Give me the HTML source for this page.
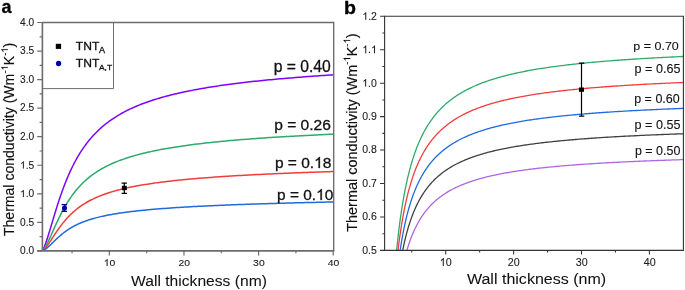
<!DOCTYPE html>
<html><head><meta charset="utf-8"><style>
html,body{margin:0;padding:0;background:#fff;width:685px;height:290px;overflow:hidden}
svg{display:block;font-family:"Liberation Sans", sans-serif;will-change:transform}
</style></head><body>
<svg width="685" height="290" viewBox="0 0 685 290">
<rect width="685" height="290" fill="#fff"/>
<defs><clipPath id="ca"><rect x="42.2" y="22.5" width="291.0" height="228.4"/></clipPath><clipPath id="cb"><rect x="384.6" y="16.3" width="298.8" height="234"/></clipPath></defs>
<path d="M42.00,250.90 L42.00,250.90 L42.01,250.90 L42.02,250.89 L42.03,250.88 L42.05,250.87 L42.07,250.85 L42.10,250.83 L42.14,250.80 L42.18,250.76 L42.23,250.72 L42.28,250.66 L42.34,250.59 L42.40,250.51 L42.48,250.42 L42.55,250.31 L42.64,250.19 L42.73,250.05 L42.83,249.90 L42.93,249.72 L43.04,249.53 L43.16,249.31 L43.29,249.08 L43.42,248.82 L43.56,248.54 L43.70,248.23 L43.86,247.89 L44.02,247.53 L44.19,247.14 L44.36,246.73 L44.55,246.28 L44.74,245.80 L44.93,245.29 L45.14,244.75 L45.35,244.18 L45.57,243.57 L45.80,242.93 L46.04,242.25 L46.28,241.54 L46.53,240.80 L46.79,240.02 L47.06,239.20 L47.34,238.35 L47.62,237.47 L47.91,236.54 L48.21,235.59 L48.52,234.59 L48.84,233.57 L49.16,232.50 L49.49,231.41 L49.83,230.28 L50.18,229.12 L50.54,227.92 L50.90,226.70 L51.28,225.44 L51.66,224.16 L52.05,222.85 L52.45,221.51 L52.86,220.14 L53.27,218.75 L53.70,217.34 L54.13,215.90 L54.57,214.45 L55.02,212.97 L55.48,211.48 L55.95,209.96 L56.43,208.44 L56.91,206.90 L57.40,205.34 L57.91,203.78 L58.42,202.20 L58.94,200.62 L59.47,199.03 L60.01,197.44 L60.55,195.84 L61.11,194.24 L61.67,192.63 L62.25,191.03 L62.83,189.43 L63.42,187.83 L64.03,186.23 L64.64,184.64 L65.25,183.05 L65.88,181.47 L66.52,179.90 L67.17,178.34 L67.82,176.78 L68.49,175.24 L69.16,173.70 L69.85,172.18 L70.54,170.67 L71.24,169.18 L71.95,167.70 L72.68,166.23 L73.41,164.77 L74.15,163.34 L74.89,161.91 L75.65,160.51 L76.42,159.12 L77.20,157.74 L77.99,156.39 L78.78,155.05 L79.59,153.72 L80.40,152.42 L81.23,151.13 L82.06,149.86 L82.91,148.61 L83.76,147.37 L84.62,146.15 L85.50,144.95 L86.38,143.77 L87.27,142.61 L88.17,141.46 L89.09,140.33 L90.01,139.22 L90.94,138.12 L91.88,137.05 L92.83,135.98 L93.79,134.94 L94.76,133.91 L95.74,132.90 L96.73,131.91 L97.73,130.93 L98.74,129.97 L99.76,129.02 L100.79,128.09 L101.83,127.17 L102.88,126.27 L103.94,125.38 L105.01,124.51 L106.09,123.65 L107.18,122.81 L108.28,121.98 L109.39,121.17 L110.51,120.36 L111.64,119.57 L112.78,118.80 L113.93,118.03 L115.09,117.28 L116.26,116.54 L117.44,115.82 L118.63,115.10 L119.83,114.40 L121.04,113.71 L122.26,113.03 L123.50,112.36 L124.74,111.70 L125.99,111.05 L127.25,110.42 L128.52,109.79 L129.81,109.17 L131.10,108.56 L132.40,107.97 L133.72,107.38 L135.04,106.80 L136.37,106.23 L137.72,105.67 L139.07,105.11 L140.44,104.57 L141.82,104.03 L143.20,103.51 L144.60,102.99 L146.01,102.48 L147.42,101.97 L148.85,101.48 L150.29,100.99 L151.74,100.51 L153.20,100.03 L154.67,99.56 L156.15,99.10 L157.64,98.65 L159.14,98.20 L160.65,97.76 L162.18,97.33 L163.71,96.90 L165.26,96.48 L166.81,96.06 L168.38,95.65 L169.95,95.25 L171.54,94.85 L173.14,94.45 L174.74,94.07 L176.36,93.68 L177.99,93.31 L179.63,92.94 L181.28,92.57 L182.95,92.21 L184.62,91.85 L186.30,91.50 L188.00,91.15 L189.70,90.81 L191.42,90.47 L193.14,90.13 L194.88,89.80 L196.63,89.48 L198.39,89.16 L200.16,88.84 L201.94,88.53 L203.73,88.22 L205.53,87.91 L207.34,87.61 L209.17,87.31 L211.00,87.02 L212.85,86.73 L214.71,86.44 L216.57,86.16 L218.45,85.88 L220.34,85.60 L222.24,85.33 L224.16,85.06 L226.08,84.79 L228.01,84.53 L229.96,84.27 L231.91,84.01 L233.88,83.76 L235.86,83.51 L237.85,83.26 L239.85,83.01 L241.86,82.77 L243.88,82.53 L245.92,82.29 L247.96,82.06 L250.02,81.83 L252.08,81.60 L254.16,81.37 L256.25,81.15 L258.35,80.93 L260.46,80.71 L262.59,80.49 L264.72,80.28 L266.87,80.07 L269.02,79.86 L271.19,79.65 L273.37,79.44 L275.56,79.24 L277.76,79.04 L279.97,78.84 L282.20,78.65 L284.43,78.45 L286.68,78.26 L288.94,78.07 L291.21,77.88 L293.49,77.70 L295.78,77.51 L298.08,77.33 L300.40,77.15 L302.72,76.97 L305.06,76.79 L307.41,76.62 L309.77,76.45 L312.14,76.27 L314.52,76.10 L316.92,75.94 L319.32,75.77 L321.74,75.61 L324.17,75.44 L326.61,75.28 L329.06,75.12 L331.53,74.96 L334.00,74.81" fill="none" stroke="#8000ff" stroke-width="1.5" clip-path="url(#ca)"/>
<path d="M42.00,250.90 L42.00,250.90 L42.01,250.90 L42.02,250.89 L42.03,250.89 L42.05,250.88 L42.07,250.87 L42.10,250.86 L42.14,250.84 L42.18,250.82 L42.23,250.79 L42.28,250.76 L42.34,250.72 L42.40,250.67 L42.48,250.62 L42.55,250.55 L42.64,250.48 L42.73,250.40 L42.83,250.31 L42.93,250.21 L43.04,250.09 L43.16,249.97 L43.29,249.83 L43.42,249.67 L43.56,249.50 L43.70,249.32 L43.86,249.12 L44.02,248.90 L44.19,248.66 L44.36,248.41 L44.55,248.14 L44.74,247.84 L44.93,247.53 L45.14,247.19 L45.35,246.84 L45.57,246.46 L45.80,246.06 L46.04,245.63 L46.28,245.19 L46.53,244.71 L46.79,244.22 L47.06,243.70 L47.34,243.15 L47.62,242.59 L47.91,241.99 L48.21,241.37 L48.52,240.73 L48.84,240.06 L49.16,239.37 L49.49,238.65 L49.83,237.91 L50.18,237.15 L50.54,236.36 L50.90,235.55 L51.28,234.72 L51.66,233.87 L52.05,233.00 L52.45,232.10 L52.86,231.19 L53.27,230.26 L53.70,229.31 L54.13,228.35 L54.57,227.37 L55.02,226.37 L55.48,225.36 L55.95,224.34 L56.43,223.31 L56.91,222.27 L57.40,221.22 L57.91,220.16 L58.42,219.09 L58.94,218.01 L59.47,216.94 L60.01,215.85 L60.55,214.77 L61.11,213.68 L61.67,212.59 L62.25,211.50 L62.83,210.41 L63.42,209.32 L64.03,208.24 L64.64,207.15 L65.25,206.08 L65.88,205.00 L66.52,203.94 L67.17,202.88 L67.82,201.82 L68.49,200.78 L69.16,199.74 L69.85,198.71 L70.54,197.69 L71.24,196.68 L71.95,195.68 L72.68,194.69 L73.41,193.71 L74.15,192.74 L74.89,191.79 L75.65,190.84 L76.42,189.91 L77.20,188.99 L77.99,188.08 L78.78,187.18 L79.59,186.30 L80.40,185.43 L81.23,184.57 L82.06,183.72 L82.91,182.89 L83.76,182.07 L84.62,181.26 L85.50,180.46 L86.38,179.68 L87.27,178.91 L88.17,178.15 L89.09,177.40 L90.01,176.67 L90.94,175.94 L91.88,175.23 L92.83,174.54 L93.79,173.85 L94.76,173.17 L95.74,172.51 L96.73,171.85 L97.73,171.21 L98.74,170.58 L99.76,169.96 L100.79,169.35 L101.83,168.75 L102.88,168.16 L103.94,167.58 L105.01,167.01 L106.09,166.45 L107.18,165.90 L108.28,165.36 L109.39,164.83 L110.51,164.31 L111.64,163.79 L112.78,163.29 L113.93,162.79 L115.09,162.30 L116.26,161.82 L117.44,161.35 L118.63,160.88 L119.83,160.42 L121.04,159.97 L122.26,159.53 L123.50,159.10 L124.74,158.67 L125.99,158.25 L127.25,157.83 L128.52,157.42 L129.81,157.02 L131.10,156.63 L132.40,156.24 L133.72,155.86 L135.04,155.48 L136.37,155.11 L137.72,154.74 L139.07,154.38 L140.44,154.03 L141.82,153.68 L143.20,153.33 L144.60,153.00 L146.01,152.66 L147.42,152.33 L148.85,152.01 L150.29,151.69 L151.74,151.37 L153.20,151.06 L154.67,150.76 L156.15,150.46 L157.64,150.16 L159.14,149.87 L160.65,149.58 L162.18,149.29 L163.71,149.01 L165.26,148.74 L166.81,148.46 L168.38,148.19 L169.95,147.93 L171.54,147.66 L173.14,147.41 L174.74,147.15 L176.36,146.90 L177.99,146.65 L179.63,146.40 L181.28,146.16 L182.95,145.92 L184.62,145.68 L186.30,145.45 L188.00,145.22 L189.70,144.99 L191.42,144.77 L193.14,144.55 L194.88,144.33 L196.63,144.11 L198.39,143.90 L200.16,143.69 L201.94,143.48 L203.73,143.27 L205.53,143.07 L207.34,142.86 L209.17,142.67 L211.00,142.47 L212.85,142.27 L214.71,142.08 L216.57,141.89 L218.45,141.70 L220.34,141.52 L222.24,141.34 L224.16,141.15 L226.08,140.97 L228.01,140.80 L229.96,140.62 L231.91,140.45 L233.88,140.28 L235.86,140.11 L237.85,139.94 L239.85,139.77 L241.86,139.61 L243.88,139.45 L245.92,139.28 L247.96,139.13 L250.02,138.97 L252.08,138.81 L254.16,138.66 L256.25,138.51 L258.35,138.35 L260.46,138.20 L262.59,138.06 L264.72,137.91 L266.87,137.77 L269.02,137.62 L271.19,137.48 L273.37,137.34 L275.56,137.20 L277.76,137.06 L279.97,136.93 L282.20,136.79 L284.43,136.66 L286.68,136.53 L288.94,136.40 L291.21,136.27 L293.49,136.14 L295.78,136.01 L298.08,135.88 L300.40,135.76 L302.72,135.64 L305.06,135.51 L307.41,135.39 L309.77,135.27 L312.14,135.15 L314.52,135.04 L316.92,134.92 L319.32,134.80 L321.74,134.69 L324.17,134.58 L326.61,134.46 L329.06,134.35 L331.53,134.24 L334.00,134.13" fill="none" stroke="#2eaa6a" stroke-width="1.5" clip-path="url(#ca)"/>
<path d="M42.00,250.90 L42.00,250.90 L42.01,250.90 L42.02,250.90 L42.03,250.89 L42.05,250.89 L42.07,250.88 L42.10,250.87 L42.14,250.86 L42.18,250.84 L42.23,250.82 L42.28,250.80 L42.34,250.77 L42.40,250.74 L42.48,250.70 L42.55,250.66 L42.64,250.61 L42.73,250.55 L42.83,250.49 L42.93,250.41 L43.04,250.33 L43.16,250.25 L43.29,250.15 L43.42,250.04 L43.56,249.92 L43.70,249.79 L43.86,249.65 L44.02,249.50 L44.19,249.34 L44.36,249.16 L44.55,248.97 L44.74,248.77 L44.93,248.55 L45.14,248.32 L45.35,248.07 L45.57,247.81 L45.80,247.53 L46.04,247.24 L46.28,246.93 L46.53,246.60 L46.79,246.26 L47.06,245.90 L47.34,245.53 L47.62,245.13 L47.91,244.72 L48.21,244.30 L48.52,243.85 L48.84,243.39 L49.16,242.91 L49.49,242.42 L49.83,241.91 L50.18,241.39 L50.54,240.85 L50.90,240.29 L51.28,239.72 L51.66,239.13 L52.05,238.53 L52.45,237.92 L52.86,237.30 L53.27,236.66 L53.70,236.01 L54.13,235.35 L54.57,234.68 L55.02,234.00 L55.48,233.31 L55.95,232.62 L56.43,231.91 L56.91,231.20 L57.40,230.49 L57.91,229.76 L58.42,229.04 L58.94,228.31 L59.47,227.57 L60.01,226.84 L60.55,226.10 L61.11,225.36 L61.67,224.63 L62.25,223.89 L62.83,223.15 L63.42,222.42 L64.03,221.68 L64.64,220.95 L65.25,220.23 L65.88,219.50 L66.52,218.78 L67.17,218.07 L67.82,217.36 L68.49,216.66 L69.16,215.96 L69.85,215.27 L70.54,214.58 L71.24,213.90 L71.95,213.23 L72.68,212.57 L73.41,211.91 L74.15,211.26 L74.89,210.62 L75.65,209.99 L76.42,209.36 L77.20,208.74 L77.99,208.13 L78.78,207.53 L79.59,206.94 L80.40,206.36 L81.23,205.79 L82.06,205.22 L82.91,204.66 L83.76,204.11 L84.62,203.57 L85.50,203.04 L86.38,202.52 L87.27,202.00 L88.17,201.49 L89.09,200.99 L90.01,200.50 L90.94,200.02 L91.88,199.55 L92.83,199.08 L93.79,198.62 L94.76,198.17 L95.74,197.72 L96.73,197.29 L97.73,196.86 L98.74,196.43 L99.76,196.02 L100.79,195.61 L101.83,195.21 L102.88,194.81 L103.94,194.43 L105.01,194.05 L106.09,193.67 L107.18,193.30 L108.28,192.94 L109.39,192.58 L110.51,192.23 L111.64,191.89 L112.78,191.55 L113.93,191.21 L115.09,190.88 L116.26,190.56 L117.44,190.24 L118.63,189.93 L119.83,189.62 L121.04,189.32 L122.26,189.02 L123.50,188.73 L124.74,188.44 L125.99,188.16 L127.25,187.88 L128.52,187.60 L129.81,187.33 L131.10,187.06 L132.40,186.80 L133.72,186.54 L135.04,186.28 L136.37,186.03 L137.72,185.79 L139.07,185.54 L140.44,185.30 L141.82,185.06 L143.20,184.83 L144.60,184.60 L146.01,184.37 L147.42,184.15 L148.85,183.93 L150.29,183.71 L151.74,183.50 L153.20,183.29 L154.67,183.08 L156.15,182.87 L157.64,182.67 L159.14,182.47 L160.65,182.27 L162.18,182.08 L163.71,181.89 L165.26,181.70 L166.81,181.51 L168.38,181.32 L169.95,181.14 L171.54,180.96 L173.14,180.78 L174.74,180.61 L176.36,180.44 L177.99,180.26 L179.63,180.10 L181.28,179.93 L182.95,179.76 L184.62,179.60 L186.30,179.44 L188.00,179.28 L189.70,179.12 L191.42,178.97 L193.14,178.82 L194.88,178.66 L196.63,178.52 L198.39,178.37 L200.16,178.22 L201.94,178.08 L203.73,177.93 L205.53,177.79 L207.34,177.65 L209.17,177.51 L211.00,177.38 L212.85,177.24 L214.71,177.11 L216.57,176.98 L218.45,176.85 L220.34,176.72 L222.24,176.59 L224.16,176.46 L226.08,176.34 L228.01,176.22 L229.96,176.09 L231.91,175.97 L233.88,175.85 L235.86,175.73 L237.85,175.62 L239.85,175.50 L241.86,175.39 L243.88,175.27 L245.92,175.16 L247.96,175.05 L250.02,174.94 L252.08,174.83 L254.16,174.72 L256.25,174.61 L258.35,174.51 L260.46,174.40 L262.59,174.30 L264.72,174.20 L266.87,174.10 L269.02,173.99 L271.19,173.90 L273.37,173.80 L275.56,173.70 L277.76,173.60 L279.97,173.51 L282.20,173.41 L284.43,173.32 L286.68,173.22 L288.94,173.13 L291.21,173.04 L293.49,172.95 L295.78,172.86 L298.08,172.77 L300.40,172.68 L302.72,172.60 L305.06,172.51 L307.41,172.42 L309.77,172.34 L312.14,172.26 L314.52,172.17 L316.92,172.09 L319.32,172.01 L321.74,171.93 L324.17,171.85 L326.61,171.77 L329.06,171.69 L331.53,171.61 L334.00,171.53" fill="none" stroke="#f23c3c" stroke-width="1.5" clip-path="url(#ca)"/>
<path d="M42.00,250.90 L42.00,250.90 L42.01,250.90 L42.02,250.90 L42.03,250.89 L42.05,250.89 L42.07,250.89 L42.10,250.88 L42.14,250.87 L42.18,250.86 L42.23,250.85 L42.28,250.84 L42.34,250.82 L42.40,250.80 L42.48,250.78 L42.55,250.76 L42.64,250.73 L42.73,250.70 L42.83,250.66 L42.93,250.62 L43.04,250.58 L43.16,250.52 L43.29,250.47 L43.42,250.41 L43.56,250.34 L43.70,250.26 L43.86,250.18 L44.02,250.10 L44.19,250.00 L44.36,249.90 L44.55,249.78 L44.74,249.66 L44.93,249.54 L45.14,249.40 L45.35,249.25 L45.57,249.09 L45.80,248.92 L46.04,248.75 L46.28,248.56 L46.53,248.36 L46.79,248.15 L47.06,247.93 L47.34,247.70 L47.62,247.46 L47.91,247.20 L48.21,246.94 L48.52,246.66 L48.84,246.37 L49.16,246.07 L49.49,245.76 L49.83,245.44 L50.18,245.11 L50.54,244.77 L50.90,244.42 L51.28,244.05 L51.66,243.68 L52.05,243.30 L52.45,242.91 L52.86,242.51 L53.27,242.10 L53.70,241.69 L54.13,241.27 L54.57,240.84 L55.02,240.40 L55.48,239.96 L55.95,239.51 L56.43,239.06 L56.91,238.61 L57.40,238.15 L57.91,237.68 L58.42,237.22 L58.94,236.75 L59.47,236.28 L60.01,235.81 L60.55,235.34 L61.11,234.87 L61.67,234.40 L62.25,233.93 L62.83,233.46 L63.42,233.00 L64.03,232.53 L64.64,232.07 L65.25,231.61 L65.88,231.16 L66.52,230.71 L67.17,230.26 L67.82,229.81 L68.49,229.37 L69.16,228.94 L69.85,228.51 L70.54,228.08 L71.24,227.66 L71.95,227.24 L72.68,226.83 L73.41,226.43 L74.15,226.03 L74.89,225.64 L75.65,225.25 L76.42,224.87 L77.20,224.49 L77.99,224.12 L78.78,223.75 L79.59,223.39 L80.40,223.04 L81.23,222.69 L82.06,222.35 L82.91,222.02 L83.76,221.69 L84.62,221.36 L85.50,221.04 L86.38,220.73 L87.27,220.42 L88.17,220.12 L89.09,219.82 L90.01,219.53 L90.94,219.24 L91.88,218.96 L92.83,218.68 L93.79,218.41 L94.76,218.14 L95.74,217.88 L96.73,217.62 L97.73,217.37 L98.74,217.12 L99.76,216.87 L100.79,216.63 L101.83,216.39 L102.88,216.16 L103.94,215.93 L105.01,215.71 L106.09,215.49 L107.18,215.27 L108.28,215.06 L109.39,214.85 L110.51,214.64 L111.64,214.44 L112.78,214.24 L113.93,214.04 L115.09,213.85 L116.26,213.66 L117.44,213.47 L118.63,213.29 L119.83,213.10 L121.04,212.93 L122.26,212.75 L123.50,212.58 L124.74,212.41 L125.99,212.24 L127.25,212.07 L128.52,211.91 L129.81,211.75 L131.10,211.59 L132.40,211.44 L133.72,211.28 L135.04,211.13 L136.37,210.98 L137.72,210.84 L139.07,210.69 L140.44,210.55 L141.82,210.41 L143.20,210.27 L144.60,210.13 L146.01,209.99 L147.42,209.86 L148.85,209.73 L150.29,209.60 L151.74,209.47 L153.20,209.34 L154.67,209.22 L156.15,209.09 L157.64,208.97 L159.14,208.85 L160.65,208.73 L162.18,208.61 L163.71,208.50 L165.26,208.38 L166.81,208.27 L168.38,208.16 L169.95,208.04 L171.54,207.93 L173.14,207.83 L174.74,207.72 L176.36,207.61 L177.99,207.51 L179.63,207.41 L181.28,207.30 L182.95,207.20 L184.62,207.10 L186.30,207.00 L188.00,206.90 L189.70,206.81 L191.42,206.71 L193.14,206.62 L194.88,206.52 L196.63,206.43 L198.39,206.34 L200.16,206.25 L201.94,206.16 L203.73,206.07 L205.53,205.98 L207.34,205.89 L209.17,205.81 L211.00,205.72 L212.85,205.64 L214.71,205.55 L216.57,205.47 L218.45,205.39 L220.34,205.31 L222.24,205.23 L224.16,205.15 L226.08,205.07 L228.01,204.99 L229.96,204.91 L231.91,204.84 L233.88,204.76 L235.86,204.68 L237.85,204.61 L239.85,204.54 L241.86,204.46 L243.88,204.39 L245.92,204.32 L247.96,204.25 L250.02,204.18 L252.08,204.11 L254.16,204.04 L256.25,203.97 L258.35,203.90 L260.46,203.83 L262.59,203.77 L264.72,203.70 L266.87,203.64 L269.02,203.57 L271.19,203.51 L273.37,203.44 L275.56,203.38 L277.76,203.32 L279.97,203.26 L282.20,203.19 L284.43,203.13 L286.68,203.07 L288.94,203.01 L291.21,202.95 L293.49,202.89 L295.78,202.84 L298.08,202.78 L300.40,202.72 L302.72,202.66 L305.06,202.61 L307.41,202.55 L309.77,202.50 L312.14,202.44 L314.52,202.39 L316.92,202.33 L319.32,202.28 L321.74,202.22 L324.17,202.17 L326.61,202.12 L329.06,202.07 L331.53,202.02 L334.00,201.97" fill="none" stroke="#1f6ae0" stroke-width="1.5" clip-path="url(#ca)"/>
<path d="M42.2,22.5 H333.7 V250.9" fill="none" stroke="#6c6c6c" stroke-width="1.35"/>
<path d="M42.4,21.9 V251.6 M37.2,250.9 H334.3" fill="none" stroke="#6c6c6c" stroke-width="1.6"/>
<path d="M37.2,250.90 H42.2 M39.6,236.62 H42.2 M37.2,222.35 H42.2 M39.6,208.07 H42.2 M37.2,193.80 H42.2 M39.6,179.53 H42.2 M37.2,165.25 H42.2 M39.6,150.98 H42.2 M37.2,136.70 H42.2 M39.6,122.43 H42.2 M37.2,108.15 H42.2 M39.6,93.88 H42.2 M37.2,79.60 H42.2 M39.6,65.32 H42.2 M37.2,51.05 H42.2 M39.6,36.78 H42.2 M37.2,22.50 H42.2 M109.35,250.9 V255.6 M183.97,250.9 V255.6 M258.58,250.9 V255.6 M333.20,250.9 V255.6 M72.05,250.9 V253.2 M146.66,250.9 V253.2 M221.28,250.9 V253.2 M295.89,250.9 V253.2" fill="none" stroke="#6c6c6c" stroke-width="1.2"/>
<g transform="translate(20.004,254.200) scale(1.0164,1)" fill="#1a1a1a" stroke="#1a1a1a" stroke-width="0.1"><text x="0.000" y="0.000" font-size="10.036" xml:space="preserve">0.0</text></g>
<g transform="translate(20.030,225.650) scale(1.0164,1)" fill="#1a1a1a" stroke="#1a1a1a" stroke-width="0.1"><text x="0.000" y="0.000" font-size="10.036" xml:space="preserve">0.5</text></g>
<g transform="translate(20.004,197.100) scale(1.0164,1)" fill="#1a1a1a" stroke="#1a1a1a" stroke-width="0.1"><path d="M763,0H583V1147C540,1106 483,1065 413,1024C343,983 280,952 224,931V1105C325,1152 413,1210 488,1277C563,1344 616,1407 647,1466H763Z" transform="translate(0.000,0.000) scale(0.00490,-0.00490)" vector-effect="non-scaling-stroke"/><text x="5.581" y="0.000" font-size="10.036" xml:space="preserve">.0</text></g>
<g transform="translate(20.030,168.550) scale(1.0018,1)" fill="#1a1a1a" stroke="#1a1a1a" stroke-width="0.1"><path d="M763,0H583V1147C540,1106 483,1065 413,1024C343,983 280,952 224,931V1105C325,1152 413,1210 488,1277C563,1344 616,1407 647,1466H763Z" transform="translate(0.000,0.000) scale(0.00497,-0.00497)" vector-effect="non-scaling-stroke"/><text x="5.663" y="0.000" font-size="10.182" xml:space="preserve">.5</text></g>
<g transform="translate(20.004,140.000) scale(1.0164,1)" fill="#1a1a1a" stroke="#1a1a1a" stroke-width="0.1"><text x="0.000" y="0.000" font-size="10.036" xml:space="preserve">2.0</text></g>
<g transform="translate(20.030,111.450) scale(1.0164,1)" fill="#1a1a1a" stroke="#1a1a1a" stroke-width="0.1"><text x="0.000" y="0.000" font-size="10.036" xml:space="preserve">2.5</text></g>
<g transform="translate(20.005,82.900) scale(1.0164,1)" fill="#1a1a1a" stroke="#1a1a1a" stroke-width="0.1"><text x="0.000" y="0.000" font-size="10.036" xml:space="preserve">3.0</text></g>
<g transform="translate(20.030,54.350) scale(1.0164,1)" fill="#1a1a1a" stroke="#1a1a1a" stroke-width="0.1"><text x="0.000" y="0.000" font-size="10.036" xml:space="preserve">3.5</text></g>
<g transform="translate(20.004,25.800) scale(1.0164,1)" fill="#1a1a1a" stroke="#1a1a1a" stroke-width="0.1"><text x="0.000" y="0.000" font-size="10.036" xml:space="preserve">4.0</text></g>
<g transform="translate(103.687,266.100) scale(1.0513,1)" fill="#1a1a1a" stroke="#1a1a1a" stroke-width="0.1"><path d="M763,0H583V1147C540,1106 483,1065 413,1024C343,983 280,952 224,931V1105C325,1152 413,1210 488,1277C563,1344 616,1407 647,1466H763Z" transform="translate(0.000,0.000) scale(0.00483,-0.00483)" vector-effect="non-scaling-stroke"/><text x="5.502" y="0.000" font-size="9.892" xml:space="preserve">0</text></g>
<g transform="translate(178.432,266.100) scale(1.0513,1)" fill="#1a1a1a" stroke="#1a1a1a" stroke-width="0.1"><text x="0.000" y="0.000" font-size="9.892" xml:space="preserve">20</text></g>
<g transform="translate(253.113,266.100) scale(1.0513,1)" fill="#1a1a1a" stroke="#1a1a1a" stroke-width="0.1"><text x="0.000" y="0.000" font-size="9.892" xml:space="preserve">30</text></g>
<g transform="translate(327.806,266.100) scale(1.0513,1)" fill="#1a1a1a" stroke="#1a1a1a" stroke-width="0.1"><text x="0.000" y="0.000" font-size="9.892" xml:space="preserve">40</text></g>
<path d="M42.2,88.6 H113.5 V22.5" fill="none" stroke="#6c6c6c" stroke-width="1"/>
<rect x="55.8" y="43.8" width="5.3" height="5.1" fill="#000"/>
<circle cx="58.6" cy="63.5" r="2.65" fill="#0000a8"/>
<g transform="translate(75.828,49.900) scale(1.0371,1)" fill="#111" stroke="#111" stroke-width="0.3"><text x="0.000" y="0.000" font-size="11.636" xml:space="preserve">TNT</text></g>
<g transform="translate(98.977,53.400) scale(1.0924,1)" fill="#111" stroke="#111" stroke-width="0.3"><text x="0.000" y="0.000" font-size="8.291" xml:space="preserve">A</text></g>
<g transform="translate(75.828,66.900) scale(1.0371,1)" fill="#111" stroke="#111" stroke-width="0.3"><text x="0.000" y="0.000" font-size="11.636" xml:space="preserve">TNT</text></g>
<g transform="translate(98.979,70.400) scale(1.0734,1)" fill="#111" stroke="#111" stroke-width="0.3"><text x="0.000" y="0.000" font-size="7.855" xml:space="preserve">A,T</text></g>
<path d="M124.3,183 V193.4 M121.6,183 H126.9 M121.6,193.4 H126.9" stroke="#000" stroke-width="1.25" fill="none"/>
<rect x="121.9" y="185.8" width="4.9" height="4.4" fill="#000"/>
<path d="M64.4,204.6 V211.4 M61.6,204.6 H67.1 M61.6,211.4 H67.1" stroke="#0000a8" stroke-width="1.25" fill="none"/>
<circle cx="64.5" cy="208.1" r="2.55" fill="#0000a8"/>
<g transform="translate(273.680,71.900) scale(0.9948,1)" fill="#111" stroke="#111" stroke-width="0.3"><text x="0.000" y="0.000" font-size="15.771" xml:space="preserve">p = 0.40</text></g>
<g transform="translate(274.188,130.000) scale(1.0149,1)" fill="#111" stroke="#111" stroke-width="0.3"><text x="0.000" y="0.000" font-size="15.341" xml:space="preserve">p = 0.26</text></g>
<g transform="translate(274.892,168.000) scale(1.0113,1)" fill="#111" stroke="#111" stroke-width="0.3"><text x="0.000" y="0.000" font-size="15.341" xml:space="preserve">p = 0.</text><path d="M763,0H583V1147C540,1106 483,1065 413,1024C343,983 280,952 224,931V1105C325,1152 413,1210 488,1277C563,1344 616,1407 647,1466H763Z" transform="translate(38.808,0.000) scale(0.00749,-0.00749)" vector-effect="non-scaling-stroke"/><text x="47.340" y="0.000" font-size="15.341" xml:space="preserve">8</text></g>
<g transform="translate(277.099,200.000) scale(1.0043,1)" fill="#111" stroke="#111" stroke-width="0.3"><text x="0.000" y="0.000" font-size="15.341" xml:space="preserve">p = 0.</text><path d="M763,0H583V1147C540,1106 483,1065 413,1024C343,983 280,952 224,931V1105C325,1152 413,1210 488,1277C563,1344 616,1407 647,1466H763Z" transform="translate(38.808,0.000) scale(0.00749,-0.00749)" vector-effect="non-scaling-stroke"/><text x="47.340" y="0.000" font-size="15.341" xml:space="preserve">0</text></g>
<g transform="translate(1.559,13.400) scale(0.9690,1)" fill="#000" font-weight="bold" stroke="#000" stroke-width="0.3"><text x="0.000" y="0.000" font-size="18.605" xml:space="preserve">a</text></g>
<g transform="translate(131.022,285.800) scale(1.0322,1)" fill="#111" stroke="#111" stroke-width="0.06"><text x="0.000" y="0.000" font-size="15.172" xml:space="preserve">Wall thickness (nm)</text></g>
<g transform="translate(14.000,236.016) rotate(-90) scale(1.0196,1)" fill="#111" stroke="#111" stroke-width="0.15"><text x="0.000" y="0.000" font-size="13.793" xml:space="preserve">Thermal conductivity (Wm</text><text x="159.420" y="-6.207" font-size="9.103" xml:space="preserve">-</text><path d="M763,0H583V1147C540,1106 483,1065 413,1024C343,983 280,952 224,931V1105C325,1152 413,1210 488,1277C563,1344 616,1407 647,1466H763Z" transform="translate(162.451,-6.207) scale(0.00445,-0.00445)" vector-effect="non-scaling-stroke"/><text x="167.515" y="0.000" font-size="13.793" xml:space="preserve">K</text><text x="176.714" y="-6.207" font-size="9.103" xml:space="preserve">-</text><path d="M763,0H583V1147C540,1106 483,1065 413,1024C343,983 280,952 224,931V1105C325,1152 413,1210 488,1277C563,1344 616,1407 647,1466H763Z" transform="translate(179.746,-6.207) scale(0.00445,-0.00445)" vector-effect="non-scaling-stroke"/><text x="184.809" y="0.000" font-size="13.793" xml:space="preserve">)</text></g>
<path d="M395.88,258.00 L395.89,257.86 L395.92,257.51 L395.97,256.99 L396.04,256.30 L396.12,255.47 L396.21,254.51 L396.31,253.41 L396.43,252.20 L396.56,250.88 L396.70,249.45 L396.86,247.92 L397.02,246.31 L397.20,244.61 L397.39,242.83 L397.59,240.99 L397.80,239.07 L398.02,237.10 L398.25,235.08 L398.49,233.01 L398.75,230.90 L399.01,228.75 L399.28,226.56 L399.57,224.35 L399.86,222.12 L400.16,219.87 L400.48,217.60 L400.80,215.32 L401.13,213.04 L401.48,210.75 L401.83,208.46 L402.19,206.17 L402.56,203.89 L402.94,201.62 L403.33,199.35 L403.73,197.10 L404.14,194.86 L404.56,192.63 L404.98,190.43 L405.42,188.24 L405.86,186.07 L406.32,183.93 L406.78,181.80 L407.25,179.70 L407.73,177.63 L408.22,175.58 L408.72,173.56 L409.23,171.56 L409.74,169.59 L410.27,167.65 L410.80,165.74 L411.34,163.85 L411.89,161.99 L412.45,160.17 L413.02,158.37 L413.59,156.59 L414.18,154.85 L414.77,153.14 L415.37,151.45 L415.98,149.79 L416.60,148.16 L417.22,146.56 L417.85,144.99 L418.50,143.44 L419.15,141.92 L419.81,140.43 L420.47,138.96 L421.15,137.52 L421.83,136.11 L422.52,134.72 L423.22,133.35 L423.93,132.02 L424.64,130.70 L425.37,129.41 L426.10,128.14 L426.84,126.90 L427.58,125.68 L428.34,124.48 L429.10,123.30 L429.87,122.15 L430.65,121.01 L431.43,119.90 L432.23,118.81 L433.03,117.74 L433.84,116.69 L434.66,115.65 L435.48,114.64 L436.32,113.64 L437.16,112.67 L438.00,111.71 L438.86,110.77 L439.72,109.84 L440.59,108.93 L441.47,108.04 L442.36,107.17 L443.25,106.31 L444.15,105.46 L445.06,104.64 L445.98,103.82 L446.90,103.02 L447.84,102.24 L448.77,101.47 L449.72,100.71 L450.67,99.97 L451.64,99.24 L452.60,98.52 L453.58,97.82 L454.56,97.13 L455.55,96.45 L456.55,95.78 L457.56,95.12 L458.57,94.48 L459.59,93.84 L460.62,93.22 L461.65,92.61 L462.70,92.00 L463.75,91.41 L464.80,90.83 L465.87,90.26 L466.94,89.70 L468.02,89.14 L469.10,88.60 L470.20,88.06 L471.30,87.54 L472.40,87.02 L473.52,86.51 L474.64,86.01 L475.77,85.52 L476.90,85.04 L478.05,84.56 L479.20,84.09 L480.35,83.63 L481.52,83.18 L482.69,82.73 L483.87,82.29 L485.05,81.86 L486.25,81.43 L487.44,81.01 L488.65,80.60 L489.86,80.19 L491.09,79.79 L492.31,79.40 L493.55,79.01 L494.79,78.63 L496.04,78.26 L497.29,77.89 L498.56,77.52 L499.82,77.16 L501.10,76.81 L502.38,76.46 L503.67,76.12 L504.97,75.78 L506.28,75.45 L507.59,75.12 L508.90,74.79 L510.23,74.48 L511.56,74.16 L512.90,73.85 L514.24,73.55 L515.59,73.25 L516.95,72.95 L518.32,72.66 L519.69,72.37 L521.07,72.09 L522.46,71.81 L523.85,71.53 L525.25,71.26 L526.65,70.99 L528.07,70.72 L529.49,70.46 L530.91,70.21 L532.35,69.95 L533.79,69.70 L535.23,69.45 L536.69,69.21 L538.15,68.97 L539.61,68.73 L541.09,68.50 L542.57,68.27 L544.05,68.04 L545.55,67.81 L547.05,67.59 L548.55,67.37 L550.07,67.16 L551.59,66.94 L553.11,66.73 L554.65,66.52 L556.19,66.32 L557.73,66.12 L559.28,65.92 L560.84,65.72 L562.41,65.52 L563.98,65.33 L565.56,65.14 L567.15,64.95 L568.74,64.77 L570.34,64.58 L571.94,64.40 L573.56,64.22 L575.18,64.05 L576.80,63.87 L578.43,63.70 L580.07,63.53 L581.71,63.36 L583.37,63.20 L585.02,63.03 L586.69,62.87 L588.36,62.71 L590.03,62.55 L591.72,62.39 L593.41,62.24 L595.10,62.09 L596.81,61.94 L598.52,61.79 L600.23,61.64 L601.95,61.49 L603.68,61.35 L605.42,61.21 L607.16,61.06 L608.91,60.93 L610.66,60.79 L612.42,60.65 L614.19,60.52 L615.96,60.38 L617.74,60.25 L619.53,60.12 L621.32,59.99 L623.12,59.87 L624.92,59.74 L626.73,59.61 L628.55,59.49 L630.38,59.37 L632.21,59.25 L634.04,59.13 L635.89,59.01 L637.74,58.89 L639.59,58.78 L641.45,58.67 L643.32,58.55 L645.20,58.44 L647.08,58.33 L648.96,58.22 L650.86,58.11 L652.76,58.00 L654.66,57.90 L656.57,57.79 L658.49,57.69 L660.42,57.59 L662.35,57.48 L664.29,57.38 L666.23,57.28 L668.18,57.19 L670.14,57.09 L672.10,56.99 L674.07,56.90 L676.04,56.80 L678.02,56.71 L680.01,56.61 L682.00,56.52 L684.00,56.43" fill="none" stroke="#2eaa6a" stroke-width="1.3" clip-path="url(#cb)"/>
<path d="M397.14,258.00 L397.15,257.88 L397.19,257.59 L397.24,257.15 L397.30,256.58 L397.38,255.88 L397.47,255.07 L397.57,254.15 L397.69,253.13 L397.82,252.02 L397.96,250.82 L398.11,249.54 L398.28,248.18 L398.46,246.75 L398.64,245.25 L398.84,243.69 L399.05,242.08 L399.27,240.41 L399.50,238.70 L399.74,236.95 L400.00,235.16 L400.26,233.34 L400.53,231.49 L400.81,229.61 L401.11,227.72 L401.41,225.80 L401.72,223.88 L402.04,221.94 L402.37,219.99 L402.71,218.04 L403.06,216.08 L403.42,214.13 L403.79,212.18 L404.17,210.23 L404.56,208.29 L404.96,206.36 L405.37,204.44 L405.78,202.53 L406.21,200.63 L406.64,198.75 L407.08,196.88 L407.53,195.03 L408.00,193.20 L408.46,191.39 L408.94,189.60 L409.43,187.83 L409.93,186.08 L410.43,184.35 L410.94,182.65 L411.47,180.96 L412.00,179.30 L412.54,177.67 L413.08,176.05 L413.64,174.46 L414.20,172.90 L414.78,171.36 L415.36,169.84 L415.95,168.34 L416.55,166.87 L417.15,165.43 L417.77,164.00 L418.39,162.60 L419.02,161.23 L419.66,159.87 L420.31,158.54 L420.96,157.24 L421.63,155.95 L422.30,154.69 L422.98,153.45 L423.67,152.23 L424.36,151.03 L425.07,149.85 L425.78,148.70 L426.50,147.56 L427.23,146.45 L427.96,145.35 L428.71,144.27 L429.46,143.22 L430.22,142.18 L430.98,141.16 L431.76,140.16 L432.54,139.18 L433.33,138.21 L434.13,137.27 L434.94,136.34 L435.75,135.42 L436.57,134.53 L437.40,133.65 L438.24,132.78 L439.08,131.93 L439.93,131.10 L440.79,130.28 L441.66,129.47 L442.54,128.68 L443.42,127.91 L444.31,127.14 L445.21,126.40 L446.11,125.66 L447.02,124.94 L447.94,124.23 L448.87,123.53 L449.80,122.85 L450.75,122.17 L451.70,121.51 L452.65,120.86 L453.62,120.22 L454.59,119.60 L455.57,118.98 L456.56,118.37 L457.55,117.78 L458.55,117.19 L459.56,116.62 L460.58,116.05 L461.60,115.50 L462.63,114.95 L463.67,114.41 L464.71,113.88 L465.76,113.36 L466.82,112.85 L467.89,112.35 L468.96,111.86 L470.04,111.37 L471.13,110.89 L472.23,110.42 L473.33,109.96 L474.44,109.51 L475.56,109.06 L476.68,108.62 L477.81,108.18 L478.95,107.76 L480.09,107.34 L481.25,106.93 L482.40,106.52 L483.57,106.12 L484.74,105.73 L485.92,105.34 L487.11,104.96 L488.31,104.58 L489.51,104.21 L490.72,103.85 L491.93,103.49 L493.15,103.14 L494.38,102.79 L495.62,102.45 L496.86,102.11 L498.11,101.78 L499.37,101.45 L500.63,101.13 L501.90,100.81 L503.18,100.50 L504.46,100.19 L505.76,99.89 L507.05,99.59 L508.36,99.29 L509.67,99.00 L510.99,98.71 L512.32,98.43 L513.65,98.15 L514.99,97.88 L516.33,97.61 L517.69,97.34 L519.04,97.08 L520.41,96.82 L521.78,96.57 L523.16,96.31 L524.55,96.07 L525.94,95.82 L527.34,95.58 L528.75,95.34 L530.16,95.11 L531.58,94.87 L533.01,94.65 L534.44,94.42 L535.88,94.20 L537.33,93.98 L538.79,93.76 L540.25,93.55 L541.71,93.34 L543.19,93.13 L544.67,92.92 L546.15,92.72 L547.65,92.52 L549.15,92.32 L550.65,92.13 L552.17,91.94 L553.69,91.75 L555.21,91.56 L556.75,91.37 L558.28,91.19 L559.83,91.01 L561.38,90.83 L562.94,90.66 L564.51,90.48 L566.08,90.31 L567.66,90.14 L569.25,89.97 L570.84,89.81 L572.44,89.65 L574.04,89.48 L575.65,89.33 L577.27,89.17 L578.89,89.01 L580.53,88.86 L582.16,88.71 L583.81,88.56 L585.46,88.41 L587.11,88.26 L588.78,88.12 L590.45,87.97 L592.12,87.83 L593.80,87.69 L595.49,87.56 L597.19,87.42 L598.89,87.28 L600.60,87.15 L602.31,87.02 L604.03,86.89 L605.76,86.76 L607.50,86.63 L609.24,86.51 L610.98,86.38 L612.73,86.26 L614.49,86.14 L616.26,86.02 L618.03,85.90 L619.81,85.78 L621.59,85.66 L623.38,85.55 L625.18,85.44 L626.98,85.32 L628.79,85.21 L630.61,85.10 L632.43,84.99 L634.26,84.88 L636.10,84.78 L637.94,84.67 L639.79,84.57 L641.64,84.46 L643.50,84.36 L645.37,84.26 L647.24,84.16 L649.12,84.06 L651.00,83.96 L652.89,83.87 L654.79,83.77 L656.70,83.68 L658.61,83.58 L660.52,83.49 L662.44,83.40 L664.37,83.31 L666.31,83.22 L668.25,83.13 L670.20,83.04 L672.15,82.95 L674.11,82.86 L676.07,82.78 L678.05,82.69 L680.03,82.61 L682.01,82.53 L684.00,82.44" fill="none" stroke="#f23c3c" stroke-width="1.3" clip-path="url(#cb)"/>
<path d="M399.04,258.00 L399.06,257.91 L399.09,257.67 L399.14,257.32 L399.20,256.86 L399.28,256.30 L399.37,255.65 L399.47,254.92 L399.59,254.10 L399.72,253.21 L399.86,252.24 L400.01,251.21 L400.17,250.11 L400.35,248.96 L400.53,247.75 L400.73,246.49 L400.94,245.19 L401.16,243.84 L401.39,242.45 L401.63,241.03 L401.88,239.58 L402.14,238.10 L402.41,236.59 L402.69,235.06 L402.98,233.51 L403.28,231.94 L403.59,230.37 L403.91,228.78 L404.24,227.18 L404.58,225.57 L404.93,223.96 L405.28,222.35 L405.65,220.74 L406.03,219.13 L406.41,217.52 L406.81,215.92 L407.21,214.32 L407.62,212.73 L408.05,211.16 L408.48,209.59 L408.92,208.03 L409.37,206.48 L409.82,204.95 L410.29,203.43 L410.77,201.93 L411.25,200.44 L411.74,198.97 L412.24,197.51 L412.75,196.08 L413.27,194.65 L413.80,193.25 L414.33,191.87 L414.88,190.50 L415.43,189.15 L415.99,187.82 L416.56,186.51 L417.14,185.22 L417.72,183.94 L418.32,182.69 L418.92,181.45 L419.53,180.23 L420.15,179.04 L420.78,177.86 L421.41,176.70 L422.05,175.55 L422.71,174.43 L423.37,173.33 L424.03,172.24 L424.71,171.17 L425.39,170.12 L426.08,169.08 L426.78,168.07 L427.49,167.07 L428.20,166.09 L428.93,165.12 L429.66,164.17 L430.40,163.24 L431.14,162.32 L431.90,161.42 L432.66,160.54 L433.43,159.66 L434.21,158.81 L434.99,157.97 L435.79,157.14 L436.59,156.33 L437.40,155.53 L438.21,154.75 L439.03,153.98 L439.87,153.22 L440.70,152.48 L441.55,151.75 L442.41,151.03 L443.27,150.33 L444.14,149.63 L445.01,148.95 L445.90,148.28 L446.79,147.62 L447.69,146.98 L448.59,146.34 L449.51,145.72 L450.43,145.10 L451.36,144.50 L452.29,143.91 L453.24,143.32 L454.19,142.75 L455.14,142.19 L456.11,141.63 L457.08,141.09 L458.06,140.55 L459.05,140.03 L460.04,139.51 L461.05,139.00 L462.06,138.50 L463.07,138.00 L464.10,137.52 L465.13,137.04 L466.16,136.58 L467.21,136.11 L468.26,135.66 L469.32,135.22 L470.39,134.78 L471.46,134.34 L472.54,133.92 L473.63,133.50 L474.73,133.09 L475.83,132.69 L476.94,132.29 L478.05,131.90 L479.18,131.51 L480.31,131.13 L481.44,130.76 L482.59,130.39 L483.74,130.03 L484.90,129.67 L486.06,129.32 L487.24,128.97 L488.42,128.63 L489.60,128.30 L490.80,127.97 L492.00,127.64 L493.20,127.32 L494.42,127.00 L495.64,126.69 L496.87,126.39 L498.10,126.09 L499.34,125.79 L500.59,125.50 L501.85,125.21 L503.11,124.92 L504.38,124.64 L505.65,124.37 L506.94,124.09 L508.23,123.83 L509.52,123.56 L510.83,123.30 L512.14,123.04 L513.45,122.79 L514.78,122.54 L516.11,122.30 L517.44,122.05 L518.79,121.81 L520.14,121.58 L521.49,121.34 L522.86,121.12 L524.23,120.89 L525.61,120.67 L526.99,120.45 L528.38,120.23 L529.78,120.01 L531.18,119.80 L532.59,119.59 L534.01,119.39 L535.44,119.19 L536.87,118.99 L538.30,118.79 L539.75,118.59 L541.20,118.40 L542.66,118.21 L544.12,118.02 L545.59,117.84 L547.07,117.66 L548.55,117.48 L550.04,117.30 L551.54,117.12 L553.04,116.95 L554.55,116.78 L556.07,116.61 L557.59,116.44 L559.12,116.28 L560.65,116.11 L562.20,115.95 L563.75,115.79 L565.30,115.64 L566.86,115.48 L568.43,115.33 L570.01,115.18 L571.59,115.03 L573.17,114.88 L574.77,114.74 L576.37,114.59 L577.98,114.45 L579.59,114.31 L581.21,114.17 L582.84,114.03 L584.47,113.90 L586.11,113.76 L587.76,113.63 L589.41,113.50 L591.07,113.37 L592.73,113.24 L594.40,113.12 L596.08,112.99 L597.76,112.87 L599.45,112.75 L601.15,112.63 L602.85,112.51 L604.56,112.39 L606.28,112.27 L608.00,112.16 L609.73,112.04 L611.47,111.93 L613.21,111.82 L614.95,111.71 L616.71,111.60 L618.47,111.49 L620.23,111.39 L622.01,111.28 L623.79,111.18 L625.57,111.07 L627.36,110.97 L629.16,110.87 L630.96,110.77 L632.77,110.67 L634.59,110.57 L636.41,110.48 L638.24,110.38 L640.08,110.29 L641.92,110.19 L643.77,110.10 L645.62,110.01 L647.48,109.92 L649.35,109.83 L651.22,109.74 L653.10,109.65 L654.98,109.56 L656.88,109.48 L658.77,109.39 L660.68,109.31 L662.59,109.22 L664.50,109.14 L666.42,109.06 L668.35,108.98 L670.29,108.90 L672.23,108.82 L674.17,108.74 L676.13,108.66 L678.09,108.59 L680.05,108.51 L682.02,108.43 L684.00,108.36" fill="none" stroke="#1f6ae0" stroke-width="1.3" clip-path="url(#cb)"/>
<path d="M401.27,258.00 L401.28,257.93 L401.31,257.75 L401.36,257.48 L401.42,257.13 L401.50,256.71 L401.59,256.21 L401.69,255.65 L401.81,255.03 L401.94,254.34 L402.07,253.61 L402.23,252.81 L402.39,251.97 L402.56,251.09 L402.75,250.16 L402.94,249.19 L403.15,248.18 L403.37,247.14 L403.59,246.07 L403.83,244.97 L404.08,243.84 L404.34,242.69 L404.61,241.52 L404.89,240.32 L405.17,239.11 L405.47,237.89 L405.78,236.65 L406.10,235.40 L406.42,234.14 L406.76,232.88 L407.10,231.61 L407.46,230.33 L407.82,229.05 L408.20,227.77 L408.58,226.49 L408.97,225.22 L409.37,223.94 L409.78,222.67 L410.20,221.41 L410.63,220.15 L411.06,218.89 L411.51,217.65 L411.96,216.41 L412.43,215.18 L412.90,213.97 L413.38,212.76 L413.87,211.56 L414.37,210.38 L414.87,209.20 L415.39,208.04 L415.91,206.89 L416.44,205.76 L416.98,204.63 L417.53,203.52 L418.08,202.43 L418.65,201.35 L419.22,200.28 L419.80,199.22 L420.39,198.18 L420.99,197.16 L421.60,196.15 L422.21,195.15 L422.83,194.17 L423.46,193.20 L424.10,192.24 L424.75,191.30 L425.40,190.38 L426.06,189.47 L426.73,188.57 L427.41,187.68 L428.10,186.81 L428.79,185.95 L429.49,185.11 L430.20,184.28 L430.92,183.46 L431.64,182.66 L432.38,181.87 L433.12,181.09 L433.87,180.32 L434.62,179.57 L435.39,178.83 L436.16,178.10 L436.94,177.38 L437.72,176.68 L438.52,175.98 L439.32,175.30 L440.13,174.63 L440.95,173.97 L441.77,173.32 L442.60,172.68 L443.44,172.05 L444.29,171.43 L445.15,170.82 L446.01,170.23 L446.88,169.64 L447.75,169.06 L448.64,168.49 L449.53,167.93 L450.43,167.38 L451.34,166.84 L452.25,166.31 L453.17,165.79 L454.10,165.27 L455.04,164.76 L455.98,164.27 L456.93,163.77 L457.89,163.29 L458.85,162.82 L459.83,162.35 L460.81,161.89 L461.79,161.44 L462.79,160.99 L463.79,160.56 L464.80,160.13 L465.81,159.70 L466.84,159.29 L467.86,158.87 L468.90,158.47 L469.95,158.07 L471.00,157.68 L472.06,157.30 L473.12,156.92 L474.19,156.54 L475.27,156.18 L476.36,155.81 L477.45,155.46 L478.55,155.11 L479.66,154.76 L480.78,154.42 L481.90,154.09 L483.03,153.76 L484.16,153.43 L485.30,153.11 L486.45,152.80 L487.61,152.49 L488.77,152.18 L489.94,151.88 L491.12,151.58 L492.30,151.29 L493.50,151.00 L494.69,150.72 L495.90,150.44 L497.11,150.16 L498.33,149.89 L499.55,149.62 L500.78,149.36 L502.02,149.10 L503.27,148.84 L504.52,148.59 L505.78,148.34 L507.05,148.10 L508.32,147.85 L509.60,147.62 L510.88,147.38 L512.18,147.15 L513.48,146.92 L514.78,146.69 L516.10,146.47 L517.42,146.25 L518.74,146.04 L520.08,145.82 L521.42,145.61 L522.76,145.41 L524.12,145.20 L525.48,145.00 L526.84,144.80 L528.22,144.60 L529.60,144.41 L530.98,144.22 L532.38,144.03 L533.78,143.84 L535.18,143.66 L536.60,143.48 L538.01,143.30 L539.44,143.12 L540.87,142.94 L542.31,142.77 L543.76,142.60 L545.21,142.43 L546.67,142.27 L548.13,142.10 L549.61,141.94 L551.09,141.78 L552.57,141.63 L554.06,141.47 L555.56,141.32 L557.06,141.16 L558.58,141.01 L560.09,140.87 L561.62,140.72 L563.15,140.58 L564.68,140.43 L566.23,140.29 L567.78,140.15 L569.33,140.02 L570.90,139.88 L572.46,139.75 L574.04,139.61 L575.62,139.48 L577.21,139.35 L578.80,139.22 L580.41,139.10 L582.01,138.97 L583.63,138.85 L585.25,138.73 L586.87,138.61 L588.51,138.49 L590.15,138.37 L591.79,138.25 L593.44,138.14 L595.10,138.02 L596.77,137.91 L598.44,137.80 L600.11,137.69 L601.80,137.58 L603.49,137.47 L605.18,137.37 L606.89,137.26 L608.60,137.16 L610.31,137.06 L612.03,136.95 L613.76,136.85 L615.49,136.75 L617.23,136.66 L618.98,136.56 L620.73,136.46 L622.49,136.37 L624.26,136.27 L626.03,136.18 L627.80,136.09 L629.59,136.00 L631.38,135.91 L633.17,135.82 L634.98,135.73 L636.79,135.64 L638.60,135.55 L640.42,135.47 L642.25,135.38 L644.08,135.30 L645.92,135.22 L647.77,135.13 L649.62,135.05 L651.48,134.97 L653.34,134.89 L655.21,134.81 L657.09,134.74 L658.97,134.66 L660.86,134.58 L662.75,134.51 L664.65,134.43 L666.56,134.36 L668.48,134.28 L670.39,134.21 L672.32,134.14 L674.25,134.07 L676.19,134.00 L678.13,133.93 L680.08,133.86 L682.04,133.79 L684.00,133.72" fill="none" stroke="#404040" stroke-width="1.3" clip-path="url(#cb)"/>
<path d="M404.85,258.00 L404.86,257.95 L404.90,257.83 L404.94,257.64 L405.01,257.39 L405.08,257.10 L405.17,256.75 L405.27,256.36 L405.39,255.92 L405.51,255.44 L405.65,254.92 L405.80,254.36 L405.96,253.77 L406.13,253.15 L406.31,252.49 L406.51,251.80 L406.71,251.09 L406.93,250.35 L407.15,249.58 L407.39,248.80 L407.63,247.99 L407.89,247.16 L408.15,246.32 L408.42,245.46 L408.71,244.58 L409.00,243.70 L409.31,242.80 L409.62,241.89 L409.94,240.97 L410.27,240.04 L410.62,239.11 L410.97,238.17 L411.33,237.23 L411.69,236.29 L412.07,235.34 L412.46,234.39 L412.85,233.44 L413.26,232.49 L413.67,231.55 L414.09,230.60 L414.53,229.66 L414.97,228.72 L415.41,227.79 L415.87,226.86 L416.34,225.93 L416.81,225.01 L417.29,224.10 L417.78,223.19 L418.28,222.29 L418.79,221.40 L419.31,220.52 L419.83,219.64 L420.37,218.77 L420.91,217.91 L421.46,217.06 L422.01,216.21 L422.58,215.38 L423.15,214.56 L423.73,213.74 L424.32,212.93 L424.92,212.14 L425.53,211.35 L426.14,210.57 L426.77,209.81 L427.40,209.05 L428.03,208.30 L428.68,207.56 L429.33,206.84 L429.99,206.12 L430.66,205.41 L431.34,204.71 L432.03,204.02 L432.72,203.34 L433.42,202.67 L434.13,202.01 L434.84,201.36 L435.57,200.72 L436.30,200.09 L437.04,199.46 L437.78,198.85 L438.54,198.24 L439.30,197.65 L440.07,197.06 L440.85,196.48 L441.63,195.91 L442.42,195.35 L443.22,194.80 L444.03,194.25 L444.84,193.72 L445.66,193.19 L446.49,192.67 L447.33,192.16 L448.17,191.65 L449.03,191.16 L449.88,190.67 L450.75,190.19 L451.62,189.71 L452.50,189.24 L453.39,188.78 L454.29,188.33 L455.19,187.88 L456.10,187.45 L457.02,187.01 L457.94,186.59 L458.87,186.17 L459.81,185.75 L460.76,185.35 L461.71,184.95 L462.67,184.55 L463.64,184.16 L464.61,183.78 L465.59,183.40 L466.58,183.03 L467.58,182.67 L468.58,182.31 L469.59,181.95 L470.61,181.60 L471.63,181.26 L472.66,180.92 L473.70,180.59 L474.74,180.26 L475.79,179.93 L476.85,179.61 L477.92,179.30 L478.99,178.99 L480.07,178.68 L481.16,178.38 L482.25,178.09 L483.35,177.79 L484.46,177.51 L485.57,177.22 L486.70,176.94 L487.82,176.67 L488.96,176.39 L490.10,176.13 L491.25,175.86 L492.40,175.60 L493.57,175.35 L494.73,175.09 L495.91,174.84 L497.09,174.60 L498.28,174.36 L499.48,174.12 L500.68,173.88 L501.89,173.65 L503.11,173.42 L504.33,173.19 L505.56,172.97 L506.80,172.75 L508.04,172.53 L509.29,172.32 L510.55,172.11 L511.81,171.90 L513.08,171.70 L514.36,171.49 L515.64,171.29 L516.93,171.10 L518.23,170.90 L519.53,170.71 L520.84,170.52 L522.16,170.33 L523.48,170.15 L524.81,169.97 L526.14,169.79 L527.49,169.61 L528.84,169.44 L530.19,169.26 L531.55,169.09 L532.92,168.92 L534.30,168.76 L535.68,168.59 L537.07,168.43 L538.46,168.27 L539.87,168.12 L541.27,167.96 L542.69,167.81 L544.11,167.65 L545.54,167.50 L546.97,167.36 L548.41,167.21 L549.86,167.07 L551.31,166.92 L552.77,166.78 L554.24,166.64 L555.71,166.50 L557.19,166.37 L558.67,166.23 L560.17,166.10 L561.66,165.97 L563.17,165.84 L564.68,165.71 L566.20,165.59 L567.72,165.46 L569.25,165.34 L570.79,165.22 L572.33,165.10 L573.88,164.98 L575.43,164.86 L577.00,164.74 L578.56,164.63 L580.14,164.52 L581.72,164.40 L583.31,164.29 L584.90,164.18 L586.50,164.07 L588.11,163.97 L589.72,163.86 L591.34,163.76 L592.96,163.65 L594.59,163.55 L596.23,163.45 L597.87,163.35 L599.52,163.25 L601.18,163.15 L602.84,163.05 L604.51,162.96 L606.18,162.86 L607.86,162.77 L609.55,162.68 L611.24,162.58 L612.94,162.49 L614.65,162.40 L616.36,162.31 L618.08,162.23 L619.80,162.14 L621.53,162.05 L623.27,161.97 L625.01,161.88 L626.76,161.80 L628.52,161.72 L630.28,161.64 L632.05,161.56 L633.82,161.48 L635.60,161.40 L637.38,161.32 L639.18,161.24 L640.97,161.17 L642.78,161.09 L644.59,161.01 L646.40,160.94 L648.23,160.87 L650.05,160.79 L651.89,160.72 L653.73,160.65 L655.58,160.58 L657.43,160.51 L659.29,160.44 L661.15,160.37 L663.02,160.30 L664.90,160.24 L666.78,160.17 L668.67,160.10 L670.57,160.04 L672.47,159.97 L674.37,159.91 L676.29,159.85 L678.21,159.78 L680.13,159.72 L682.06,159.66 L684.00,159.60" fill="none" stroke="#ad66e4" stroke-width="1.3" clip-path="url(#cb)"/>
<path d="M384.6,16.3 H683.4 V250.4 M384.6,15.8 V250.4 M380.1,250.4 H683.9" fill="none" stroke="#333" stroke-width="1.1"/>
<path d="M380.1,250.40 H384.6 M382.4,233.68 H384.6 M380.1,216.96 H384.6 M382.4,200.24 H384.6 M380.1,183.51 H384.6 M382.4,166.79 H384.6 M380.1,150.07 H384.6 M382.4,133.35 H384.6 M380.1,116.63 H384.6 M382.4,99.91 H384.6 M380.1,83.19 H384.6 M382.4,66.46 H384.6 M380.1,49.74 H384.6 M382.4,33.02 H384.6 M380.1,16.30 H384.6 M445.71,250.4 V254.5 M513.61,250.4 V254.5 M581.51,250.4 V254.5 M649.41,250.4 V254.5 M411.76,250.4 V252.6 M479.66,250.4 V252.6 M547.56,250.4 V252.6 M615.46,250.4 V252.6" fill="none" stroke="#333" stroke-width="1.05"/>
<g transform="translate(362.217,253.800) scale(1.0038,1)" fill="#1a1a1a" stroke="#1a1a1a" stroke-width="0.1"><text x="0.000" y="0.000" font-size="10.466" xml:space="preserve">0.5</text></g>
<g transform="translate(362.243,220.357) scale(1.0038,1)" fill="#1a1a1a" stroke="#1a1a1a" stroke-width="0.1"><text x="0.000" y="0.000" font-size="10.466" xml:space="preserve">0.6</text></g>
<g transform="translate(362.322,186.914) scale(1.0038,1)" fill="#1a1a1a" stroke="#1a1a1a" stroke-width="0.1"><text x="0.000" y="0.000" font-size="10.466" xml:space="preserve">0.7</text></g>
<g transform="translate(362.243,153.471) scale(1.0038,1)" fill="#1a1a1a" stroke="#1a1a1a" stroke-width="0.1"><text x="0.000" y="0.000" font-size="10.466" xml:space="preserve">0.8</text></g>
<g transform="translate(362.269,120.029) scale(1.0038,1)" fill="#1a1a1a" stroke="#1a1a1a" stroke-width="0.1"><text x="0.000" y="0.000" font-size="10.466" xml:space="preserve">0.9</text></g>
<g transform="translate(362.191,86.586) scale(1.0038,1)" fill="#1a1a1a" stroke="#1a1a1a" stroke-width="0.1"><path d="M763,0H583V1147C540,1106 483,1065 413,1024C343,983 280,952 224,931V1105C325,1152 413,1210 488,1277C563,1344 616,1407 647,1466H763Z" transform="translate(0.000,0.000) scale(0.00511,-0.00511)" vector-effect="non-scaling-stroke"/><text x="5.821" y="0.000" font-size="10.466" xml:space="preserve">.0</text></g>
<g transform="translate(362.296,53.143) scale(0.9894,1)" fill="#1a1a1a" stroke="#1a1a1a" stroke-width="0.1"><path d="M763,0H583V1147C540,1106 483,1065 413,1024C343,983 280,952 224,931V1105C325,1152 413,1210 488,1277C563,1344 616,1407 647,1466H763Z" transform="translate(0.000,0.000) scale(0.00518,-0.00518)" vector-effect="non-scaling-stroke"/><text x="5.905" y="0.000" font-size="10.618" xml:space="preserve">.</text><path d="M763,0H583V1147C540,1106 483,1065 413,1024C343,983 280,952 224,931V1105C325,1152 413,1210 488,1277C563,1344 616,1407 647,1466H763Z" transform="translate(8.855,0.000) scale(0.00518,-0.00518)" vector-effect="non-scaling-stroke"/></g>
<g transform="translate(362.322,19.700) scale(1.0038,1)" fill="#1a1a1a" stroke="#1a1a1a" stroke-width="0.1"><path d="M763,0H583V1147C540,1106 483,1065 413,1024C343,983 280,952 224,931V1105C325,1152 413,1210 488,1277C563,1344 616,1407 647,1466H763Z" transform="translate(0.000,0.000) scale(0.00511,-0.00511)" vector-effect="non-scaling-stroke"/><text x="5.821" y="0.000" font-size="10.466" xml:space="preserve">.2</text></g>
<g transform="translate(439.764,266.000) scale(0.9703,1)" fill="#1a1a1a" stroke="#1a1a1a" stroke-width="0.1"><path d="M763,0H583V1147C540,1106 483,1065 413,1024C343,983 280,952 224,931V1105C325,1152 413,1210 488,1277C563,1344 616,1407 647,1466H763Z" transform="translate(0.000,0.000) scale(0.00539,-0.00539)" vector-effect="non-scaling-stroke"/><text x="6.140" y="0.000" font-size="11.039" xml:space="preserve">0</text></g>
<g transform="translate(507.798,266.000) scale(0.9703,1)" fill="#1a1a1a" stroke="#1a1a1a" stroke-width="0.1"><text x="0.000" y="0.000" font-size="11.039" xml:space="preserve">20</text></g>
<g transform="translate(575.765,266.000) scale(0.9703,1)" fill="#1a1a1a" stroke="#1a1a1a" stroke-width="0.1"><text x="0.000" y="0.000" font-size="11.039" xml:space="preserve">30</text></g>
<g transform="translate(643.745,266.000) scale(0.9703,1)" fill="#1a1a1a" stroke="#1a1a1a" stroke-width="0.1"><text x="0.000" y="0.000" font-size="11.039" xml:space="preserve">40</text></g>
<path d="M581.5,63.2 V116.1 M578.9,63.2 H584.3 M578.9,116.1 H584.3" stroke="#000" stroke-width="1.2" fill="none"/>
<rect x="579.0" y="87.5" width="5.0" height="4.3" fill="#000"/>
<g transform="translate(633.288,49.900) scale(1.0628,1)" fill="#111" stroke="#111" stroke-width="0.1"><text x="0.000" y="0.000" font-size="11.756" xml:space="preserve">p = 0.70</text></g>
<g transform="translate(634.582,72.700) scale(1.0210,1)" fill="#111" stroke="#111" stroke-width="0.1"><text x="0.000" y="0.000" font-size="12.330" xml:space="preserve">p = 0.65</text></g>
<g transform="translate(634.186,102.700) scale(1.0157,1)" fill="#111" stroke="#111" stroke-width="0.1"><text x="0.000" y="0.000" font-size="12.330" xml:space="preserve">p = 0.60</text></g>
<g transform="translate(634.582,128.700) scale(1.0210,1)" fill="#111" stroke="#111" stroke-width="0.1"><text x="0.000" y="0.000" font-size="12.330" xml:space="preserve">p = 0.55</text></g>
<g transform="translate(634.990,154.700) scale(1.0111,1)" fill="#111" stroke="#111" stroke-width="0.1"><text x="0.000" y="0.000" font-size="12.330" xml:space="preserve">p = 0.50</text></g>
<g transform="translate(344.026,14.100) scale(1.0528,1)" fill="#000" font-weight="bold" stroke="#000" stroke-width="0.3"><text x="0.000" y="0.000" font-size="18.621" xml:space="preserve">b</text></g>
<g transform="translate(466.920,283.800) scale(1.0763,1)" fill="#111" stroke="#111" stroke-width="0.06"><text x="0.000" y="0.000" font-size="14.897" xml:space="preserve">Wall thickness (nm)</text></g>
<g transform="translate(356.600,231.825) rotate(-90) scale(1.0173,1)" fill="#111" stroke="#111" stroke-width="0.15"><text x="0.000" y="0.000" font-size="14.207" xml:space="preserve">Thermal conductivity (Wm</text><text x="164.202" y="-6.393" font-size="9.377" xml:space="preserve">-</text><path d="M763,0H583V1147C540,1106 483,1065 413,1024C343,983 280,952 224,931V1105C325,1152 413,1210 488,1277C563,1344 616,1407 647,1466H763Z" transform="translate(167.325,-6.393) scale(0.00458,-0.00458)" vector-effect="non-scaling-stroke"/><text x="172.540" y="0.000" font-size="14.207" xml:space="preserve">K</text><text x="182.016" y="-6.393" font-size="9.377" xml:space="preserve">-</text><path d="M763,0H583V1147C540,1106 483,1065 413,1024C343,983 280,952 224,931V1105C325,1152 413,1210 488,1277C563,1344 616,1407 647,1466H763Z" transform="translate(185.138,-6.393) scale(0.00458,-0.00458)" vector-effect="non-scaling-stroke"/><text x="190.354" y="0.000" font-size="14.207" xml:space="preserve">)</text></g>
</svg>
</body></html>
